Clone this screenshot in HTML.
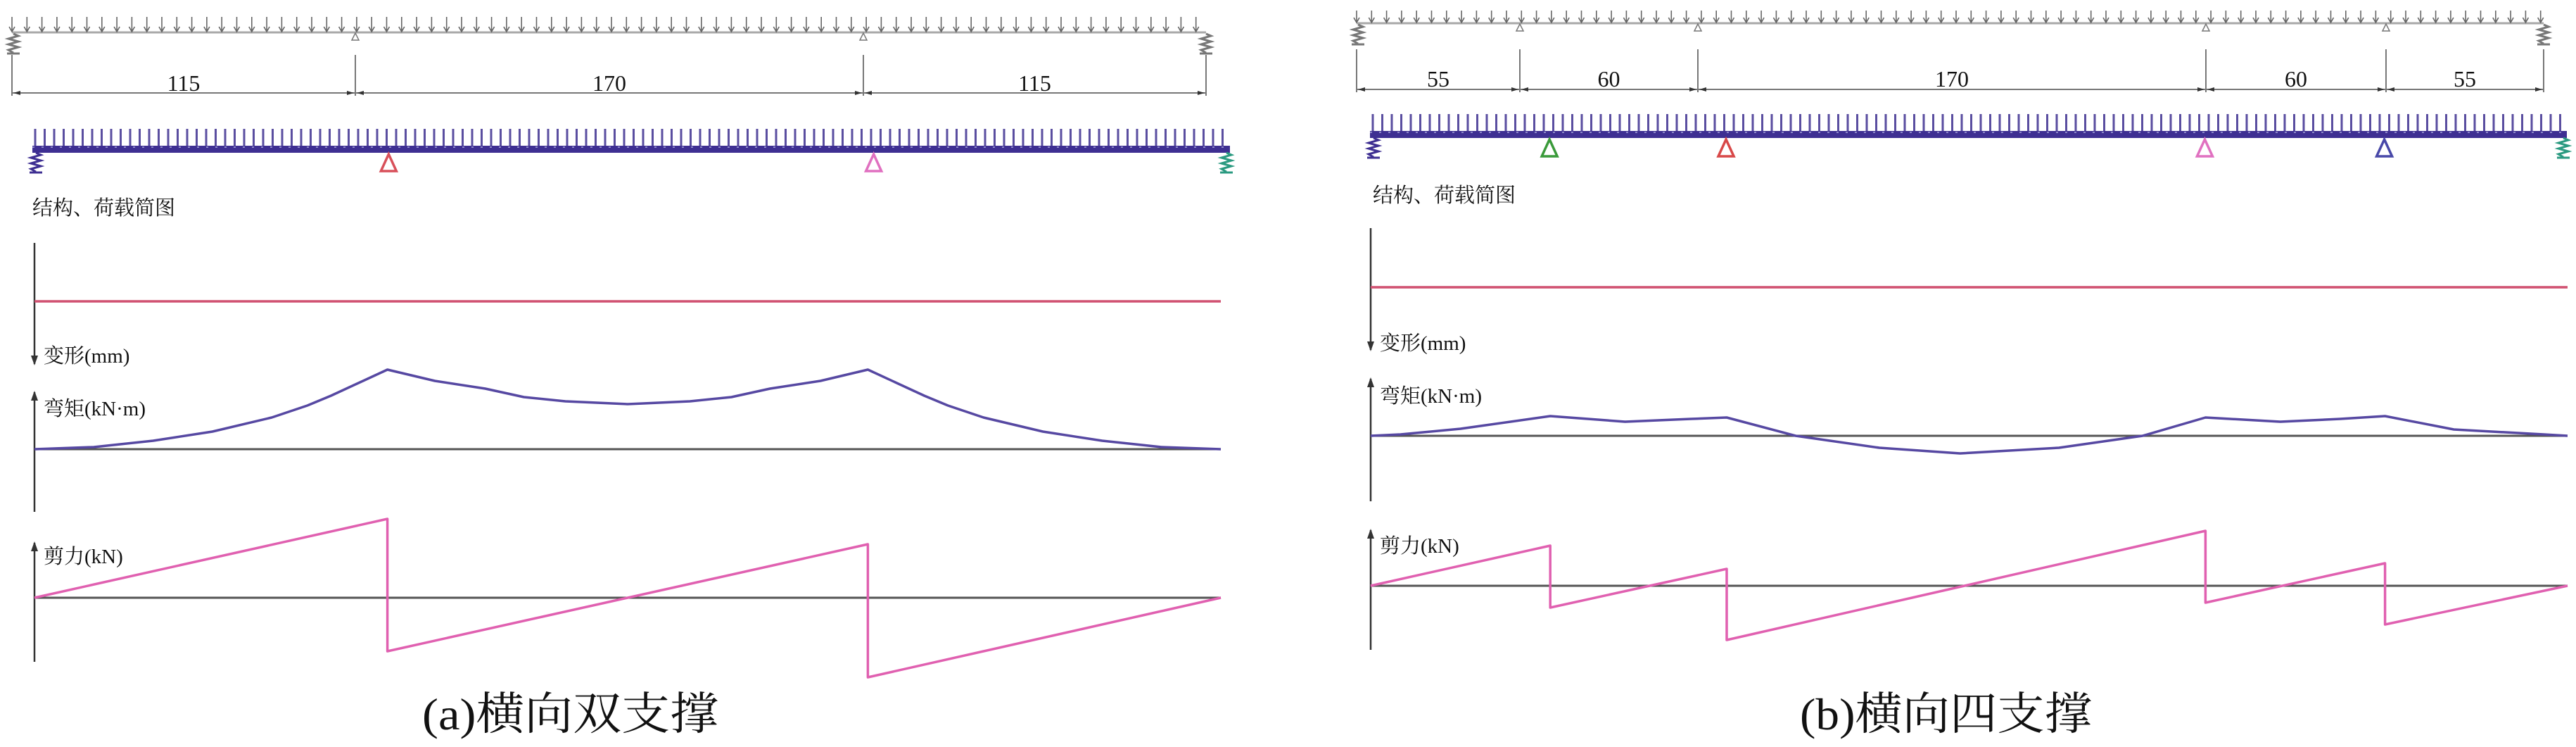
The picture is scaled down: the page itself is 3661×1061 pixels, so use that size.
<!DOCTYPE html>
<html><head><meta charset="utf-8"><title>横向支撑 内力图</title>
<style>
html,body{margin:0;padding:0;background:#fff;}
svg{display:block;}
.cj{font-family:"Liberation Serif","Noto Serif CJK SC",serif;fill:#111;}
</style></head>
<body>
<svg id="fig" xmlns="http://www.w3.org/2000/svg" width="3661" height="1061" viewBox="0 0 3661 1061">
<rect width="3661" height="1061" fill="#fff"/>
</svg>
<script>
// ---- data (positions along beam 0..400, values in drawing units) ----
const spanLabelsA = ['115','170','115'];
const spanLabelsB = ['55','60','170','60','55'];
const supportPosA = [119, 281];
const supportPosB = [60, 119, 279, 339];
const deformPosA = [0, 400];
const deformValA = [0, 0];
const deformPosB = [0, 400];
const deformValB = [0, 0];
const momentPosA = [0,20,40,60,80,92,100,119,135,152,165,179,200,221,235,248,265,281,300,308,320,340,360,380,400];
const momentValA = [0,3,12,25,45,62,76,113,97,86,74,68,64,68,74,86,97,113,76,62,45,25,12,3,0];
const momentPosB = [0,10,30,60,85,107,119,142,170,197,230,258,279,304,324,339,362,392,400];
const momentValB = [0,2,10,28,20,24,26,0,-17,-25,-17,0,26,20,24,28,9,2,0];
const shearPosA = [0,119,119,281,281,400];
const shearValA = [0,112,-76,76,-113,0];
const shearPosB = [0,60,60,119,119,279,279,339,339,400];
const shearValB = [0,57,-31,24,-77,78,-24,32,-55,0];

const NS='http://www.w3.org/2000/svg';
const svg=document.getElementById('fig');
function mk(tag,attrs,parent){const e=document.createElementNS(NS,tag);for(const k in attrs)e.setAttribute(k,attrs[k]);(parent||svg).appendChild(e);return e;}

const panels=[
 {key:'a',spans:spanLabelsA,sup:supportPosA,supColors:['#d8505a','#e070c0'],
  dims:[17,505,1227,1714],loadY:46,loadArrowTop:24,dimTop:78,dimY:132,dimTextY:129,
  beamX0:46,beamX1:1748,beamY:212,beamArrowTop:183,
  x0:49,x1:1735,
  labelX:46,labelY:305,
  deform:{pos:deformPosA,val:deformValA,base:428,axTop:345,axBot:517,labelY:515},
  moment:{pos:momentPosA,val:momentValA,base:638,axTop:557,axBot:727,labelY:590},
  shear:{pos:shearPosA,val:shearValA,base:849,axTop:771,axBot:940,labelY:800},
  title:'(a)横向双支撑',titleX:600,titleW:421},
 {key:'b',spans:spanLabelsB,sup:supportPosB,supColors:['#3a9a3a','#d84848','#e070c0','#4848a8'],
  dims:[1928,2160,2413,3135,3391,3615],loadY:33,loadArrowTop:15,dimTop:70,dimY:127,dimTextY:123,
  beamX0:1947,beamX1:3648,beamY:191,beamArrowTop:162,
  x0:1948,x1:3649,
  labelX:1951,labelY:287,
  deform:{pos:deformPosB,val:deformValB,base:408,axTop:324,axBot:497,labelY:497},
  moment:{pos:momentPosB,val:momentValB,base:619,axTop:538,axBot:712,labelY:572},
  shear:{pos:shearPosB,val:shearValB,base:832,axTop:753,axBot:923,labelY:785},
  title:'(b)横向四支撑',titleX:2558,titleW:415}
];

function spring(g,x,y,color,name){
  let d='M'+x+' '+y;
  for(let i=0;i<6;i++){d+=' L'+(x+(i%2?-7:7))+' '+(y+3+i*4);}
  d+=' L'+x+' '+(y+27);
  const p=mk('path',{d:d,stroke:color,'stroke-width':3,fill:'none'},g);
  
  
  const b=mk('line',{x1:x-9,y1:y+28,x2:x+9,y2:y+28,stroke:color,'stroke-width':3},g);
  
  
}

panels.forEach(P=>{
  const g=mk('g',{});
  
  
  const X=pos=>P.x0+pos/400*(P.x1-P.x0);
  const BX=pos=>P.beamX0+pos/400*(P.beamX1-P.beamX0);
  // top schematic load line
  const L0=P.dims[0],L1=P.dims[P.dims.length-1];
  const ll=mk('line',{x1:L0,y1:P.loadY,x2:L1,y2:P.loadY,stroke:'#a8a8a8','stroke-width':3},g);
  
  
  const la=mk('g',{stroke:'#666','stroke-width':1.6,fill:'none'},g);
  
  
  for(let x=L0;x<=L1+1;x+=21.3){
    mk('path',{d:`M${x} ${P.loadArrowTop} V${P.loadY-1} M${x-4} ${P.loadY-8} L${x} ${P.loadY-1} L${x+4} ${P.loadY-8}`},la);
  }
  for(let i=1;i<P.dims.length-1;i++){
    const t=mk('path',{d:`M${P.dims[i]} ${P.loadY+1} l-5 10 h10 z`,stroke:'#777','stroke-width':1.5,fill:'#fff'},g);
    
    
  }
  spring(g,L0+2,P.loadY+2,'#777','schematic-spring-left');
  spring(g,L1,P.loadY+2,'#777','schematic-spring-right');
  // dimension lines
  const dl=mk('line',{x1:L0,y1:P.dimY,x2:L1,y2:P.dimY,stroke:'#777','stroke-width':2},g);
  
  
  P.dims.forEach((x,i)=>{
    const t=mk('line',{x1:x,y1:P.dimTop,x2:x,y2:P.dimY+4,stroke:'#777','stroke-width':2},g);
    
    
    if(i<P.dims.length-1){
      const x2=P.dims[i+1];
      const ar=mk('path',{d:`M${x+2} ${P.dimY} l10 -3 v6 z M${x2-2} ${P.dimY} l-10 -3 v6 z`,fill:'#333'},g);
      
      
      const tx=mk('text',{x:(x+x2)/2,y:P.dimTextY,'text-anchor':'middle','font-size':32,'class':'cj'},g);
      tx.textContent=P.spans[i];
      
      
    }
  });
  // structural beam with distributed load
  const ba=mk('g',{stroke:'#5a4ea0','stroke-width':3,fill:'none'},g);
  
  
  for(let x=P.beamX0+4;x<=P.beamX1;x+=13.5){
    mk('path',{d:`M${x} ${P.beamArrowTop} V${P.beamY-4}`},ba);
  }
  const bm=mk('rect',{x:P.beamX0,y:P.beamY-5,width:P.beamX1-P.beamX0,height:10,fill:'#3e2f92'},g);
  
  
  const bd=mk('line',{x1:P.beamX0,y1:P.beamY-3,x2:P.beamX1,y2:P.beamY-3,stroke:'#8c86c8','stroke-width':2,'stroke-dasharray':'3 10'},g);
  
  
  P.sup.forEach((s,i)=>{
    const x=BX(s);
    const t=mk('path',{d:`M${x} ${P.beamY+7} L${x-11} ${P.beamY+31} H${x+11} Z`,stroke:P.supColors[i],'stroke-width':3.5,fill:'#fff'},g);
    
    
  });
  spring(g,P.beamX0+5,P.beamY+5,'#3e2f92','spring-left');
  spring(g,P.beamX1-5,P.beamY+5,'#2a9a80','spring-right');
  const lb=mk('text',{x:P.labelX,y:P.labelY,'font-size':29,'class':'cj'},g);
  lb.textContent='结构、荷载简图';
  
  

  // diagrams
  const diagrams=[
    {d:P.deform,name:'deformation',label:'变形(mm)',color:'#d05070',down:true},
    {d:P.moment,name:'moment',label:'弯矩(kN·m)',color:'#5648a2',down:false},
    {d:P.shear,name:'shear',label:'剪力(kN)',color:'#e060b0',down:false}
  ];
  diagrams.forEach(D=>{
    const dd=D.d;
    const ax=mk('line',{x1:P.x0,y1:dd.axTop,x2:P.x0,y2:dd.axBot,stroke:'#333','stroke-width':2.5},g);
    
    
    const ah=D.down?`M${P.x0} ${dd.axBot+2} l-5 -14 h10 z`:`M${P.x0} ${dd.axTop-2} l-5 14 h10 z`;
    const ap=mk('path',{d:ah,fill:'#333'},g);
    
    
    const t=mk('text',{x:P.x0+13,y:dd.labelY,'font-size':29,'class':'cj'},g);
    t.textContent=D.label;
    
    
    if(D.name!=='deformation'){
      const bl=mk('line',{x1:P.x0,y1:dd.base,x2:P.x1,y2:dd.base,stroke:'#555','stroke-width':3},g);
      
      
    }
    const pts=dd.pos.map((p,i)=>X(p).toFixed(1)+','+(dd.base-dd.val[i]).toFixed(1)).join(' ');
    const pl=mk('polyline',{points:pts,fill:'none',stroke:D.color,'stroke-width':3.5,'stroke-linejoin':'round'},g);
    
    
  });
  const tt=mk('text',{x:P.titleX,y:1036,'font-size':64,'class':'cj',textLength:P.titleW,lengthAdjust:'spacingAndGlyphs'},g);
  tt.textContent=P.title;
  
  
});
</script>
</body></html>
